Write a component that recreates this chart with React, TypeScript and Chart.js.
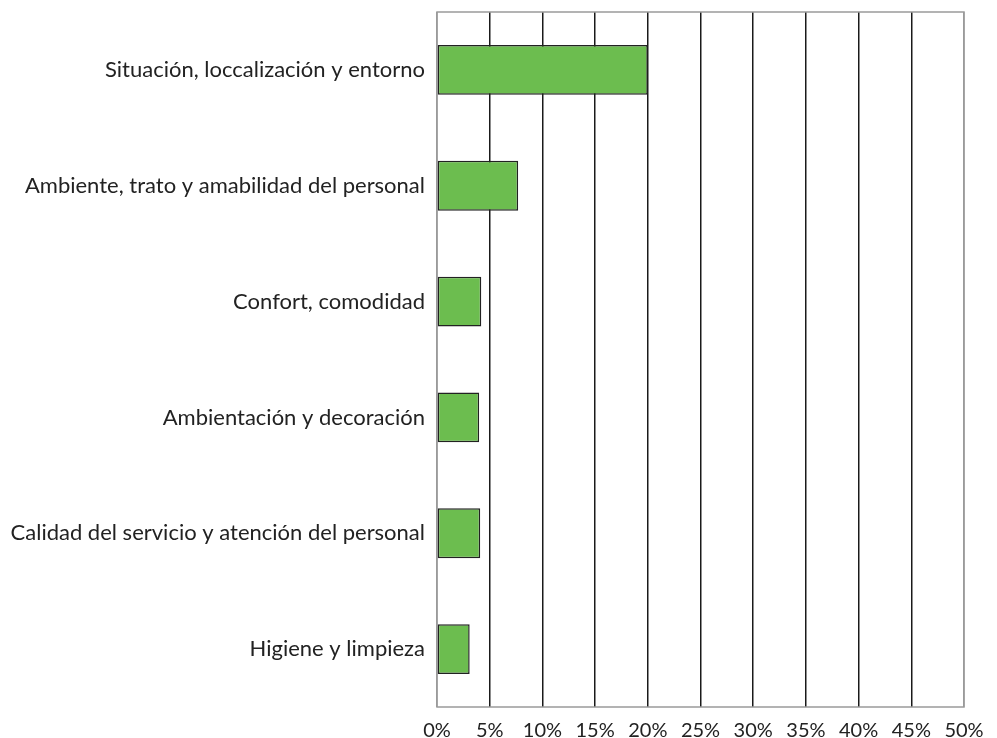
import React, { useEffect, useRef } from "react";
import { Chart, registerables } from "chart.js";

Chart.register(...registerables);

const categories = [
  "Situación, loccalización y entorno",
  "Ambiente, trato y amabilidad del personal",
  "Confort, comodidad",
  "Ambientación y decoración",
  "Calidad del servicio y atención del personal",
  "Higiene y limpieza",
];
const values = [20, 7.7, 4.2, 4.0, 4.1, 3.1];
const xTickStep = 5;
const xMax = 50;

const frame = {
  id: "frame",
  beforeDatasetsDraw(chart: any) {
    const { ctx, chartArea } = chart;
    ctx.save();
    ctx.strokeStyle = "#9a9a9a";
    ctx.lineWidth = 1.5;
    ctx.strokeRect(chartArea.left, chartArea.top, chartArea.right - chartArea.left, chartArea.bottom - chartArea.top);
    ctx.restore();
  },
};

export default function App() {
  const ref = useRef<HTMLCanvasElement>(null);
  useEffect(() => {
    const chart = new Chart(ref.current!, {
      type: "bar",
      data: {
        labels: categories,
        datasets: [
          {
            data: values,
            backgroundColor: "#6cbd4f",
            borderColor: "#222222",
            borderWidth: 1.5,
            borderSkipped: false,
            barPercentage: 0.43,
            categoryPercentage: 1,
          },
        ],
      },
      options: {
        indexAxis: "y",
        animation: false,
        responsive: false,
        maintainAspectRatio: false,
        layout: { padding: { left: 0, right: 33, top: 12, bottom: 0 } },
        plugins: { legend: { display: false }, tooltip: { enabled: false } },
        scales: {
          x: {
            min: 0,
            max: xMax,
            ticks: {
              stepSize: xTickStep,
              callback: (v: any) => v + "%",
              color: "#222",
              font: { family: "Lato", size: 20 },
              padding: 12,
              maxRotation: 0,
            },
            grid: {
              drawTicks: false,
              color: (c: any) => (c.index === 0 || c.index === 10 ? "#9a9a9a" : "#1a1a1a"),
              lineWidth: 1.5,
            },
            border: { display: false },
            afterFit: (s: any) => {
              s.height = 31;
            },
          },
          y: {
            ticks: {
              color: "#222",
              font: { family: "Lato", size: 22 },
              padding: 12,
            },
            grid: { display: false, drawTicks: false },
            border: { display: false },
            afterFit: (s: any) => {
              s.width = 437;
              s.paddingTop = 0;
              s.paddingBottom = 0;
            },
          },
        },
      },
      plugins: [frame],
    });
    return () => chart.destroy();
  }, []);
  return (
    <div style={{ position: "fixed", left: 0, top: 0, width: 997, height: 738, background: "#fff" }}>
      <canvas ref={ref} width={997} height={738} style={{ width: 997, height: 738 }} />
    </div>
  );
}
